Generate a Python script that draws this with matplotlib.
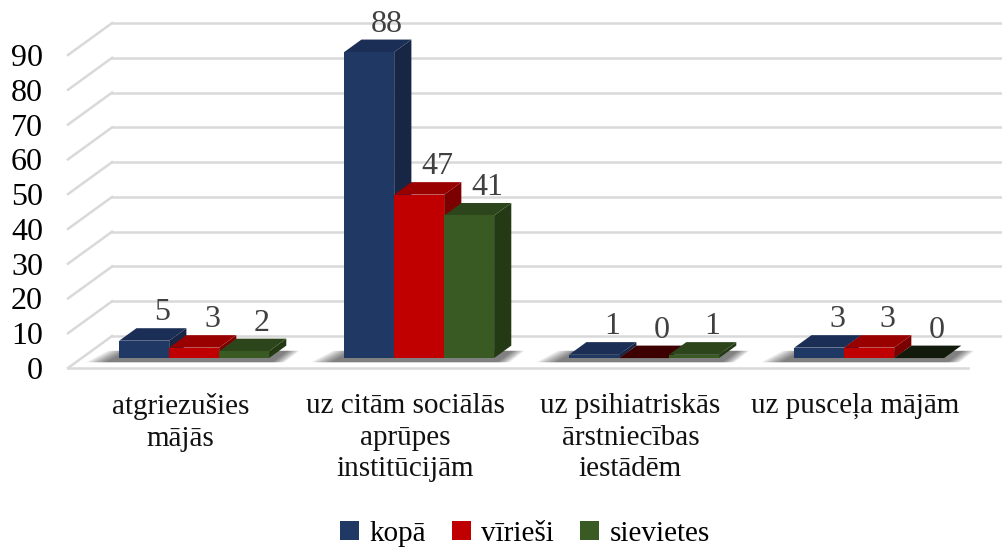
import matplotlib.pyplot as plt
from matplotlib.patches import Polygon, Patch

plt.rcParams['font.family'] = ['Liberation Serif', 'DejaVu Serif']

categories = ['atgriezušies\nmājās',
              'uz citām sociālās\naprūpes\ninstitūcijām',
              'uz psihiatriskās\nārstniecības\niestādēm',
              'uz pusceļa mājām']
series = ['kopā', 'vīrieši', 'sievietes']
kopa = [5, 88, 1, 3]
virriesi = [3, 47, 0, 3]
sievietes = [2, 41, 1, 0]
values = [kopa, virriesi, sievietes]
yticks = [0, 10, 20, 30, 40, 50, 60, 70, 80, 90]

# face colours: front, top, side
colors = [('#203864', '#1b2e55', '#172644'),
          ('#c00000', '#990000', '#7d0000'),
          ('#3a5a23', '#2c451a', '#243a15')]

# depth of the 3d box in data units (x, y) and where the bars sit in it
DX, DY = 0.196, 9.2
F0, F1 = 0.31, 0.70
BW = 0.222

fig = plt.figure(figsize=(10.03, 5.48), dpi=100)
ax = fig.add_axes([68 / 1003, 180 / 548, 900 / 1003, 313 / 548])
ax.set_xlim(0, 4)
ax.set_ylim(0, 90)
for s in ax.spines.values():
    s.set_visible(False)

grid = '#d9d9d9'
for v in yticks:
    ax.plot([0, DX], [v, v + DY], color=grid, lw=1.8, clip_on=False, zorder=1)
    ax.plot([DX, 4 + DX], [v + DY, v + DY], color=grid, lw=1.8, clip_on=False, zorder=1)
ax.plot([0, 4], [0, 0], color=grid, lw=1.8, clip_on=False, zorder=1)

ax.set_yticks(yticks)
ax.set_yticklabels([str(v) for v in yticks], fontsize=23, color='black')
ax.tick_params(axis='y', length=0, pad=18)
ax.set_xticks([i + 0.5 for i in range(len(categories))])
ax.set_xticklabels(categories, fontsize=21, color='#111111', linespacing=1.28, va='top')
ax.tick_params(axis='x', length=0, pad=18)

for i in range(len(categories)):
    # soft shadow under each group
    gl = i + 0.5 - 1.5 * BW + F0 * DX
    gr = gl + 3 * BW
    for k in range(8):
        e = 0.012 * (8 - k)
        sh = Polygon([(gl - 0.05 - e, F0 * DY - 1.2),
                      (gr + 0.01 + e * 0.6, F0 * DY - 1.2),
                      (gr + (F1 - F0) * DX + e * 0.6, F1 * DY - 1.5),
                      (gl + (F1 - F0) * DX - 0.03 - e, F1 * DY - 1.5)],
                     closed=True, facecolor='black', edgecolor='none',
                     alpha=0.08, zorder=2, clip_on=False)
        ax.add_patch(sh)

    for j in range(len(series)):
        v = values[j][i]
        front, top, side = colors[j]
        if v == 0:
            top = {0: '#101b30', 1: '#3d0000', 2: '#121a0c'}[j]
        x0 = i + 0.5 - 1.5 * BW + j * BW + F0 * DX
        x1 = x0 + BW
        yb = F0 * DY
        yt = v + F0 * DY
        ddx = (F1 - F0) * DX
        ddy = (F1 - F0) * DY
        z = 3 + j
        ax.add_patch(Polygon([(x1, yb), (x1 + ddx, yb + ddy), (x1 + ddx, yt + ddy), (x1, yt)],
                             closed=True, facecolor=side, edgecolor='none', zorder=z, clip_on=False))
        ax.add_patch(Polygon([(x0, yt), (x1, yt), (x1 + ddx, yt + ddy), (x0 + ddx, yt + ddy)],
                             closed=True, facecolor=top, edgecolor='none', zorder=z, clip_on=False))
        ax.bar(x0, v, width=BW, bottom=yb, align='edge', color=front, zorder=z, clip_on=False)
        ax.text(x0 + BW / 2 + 0.08, yt + ddy + 0.3, str(v), fontsize=23, color='#404040',
                ha='center', va='bottom', zorder=10)

handles = [Patch(facecolor=c[0], edgecolor='none') for c in colors]
fig.legend(handles, series, loc='center', bbox_to_anchor=(525 / 1003, 1 - 534 / 548),
           ncol=3, frameon=False, fontsize=21, handlelength=0.65, handleheight=0.65,
           handletextpad=0.35, columnspacing=0.9)

fig.savefig('out.png', dpi=100)
